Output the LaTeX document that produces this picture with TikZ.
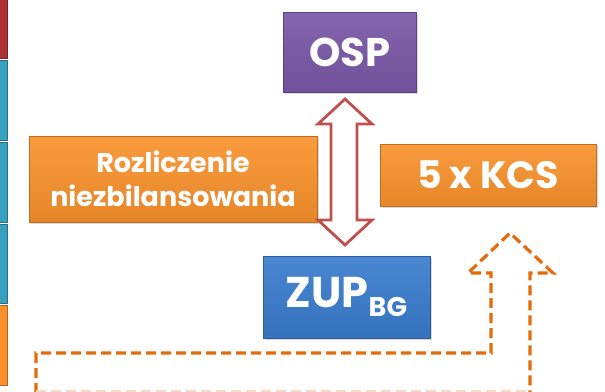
\documentclass[tikz,border=0pt]{standalone}
\usepackage{fontspec}
\newfontfamily\boxfont{Poppins}
\usetikzlibrary{positioning,shadows}

\definecolor{ospviolet}{RGB}{122,88,166}
\definecolor{kcsorange}{RGB}{249,146,45}
\definecolor{zupblue}{RGB}{58,124,206}
\definecolor{arrowred}{RGB}{192,80,77}
\definecolor{dashorange}{RGB}{228,108,10}
\definecolor{stripred}{RGB}{170,50,50}
\definecolor{stripteal}{RGB}{55,160,190}

\begin{document}
\begin{tikzpicture}[x=1pt, y=-1pt,
                    box/.style={draw=#1!75!black, line width=0.6pt,
                      top color=#1!92!white, bottom color=#1!92!black,
                      text=white, align=center, inner sep=0pt,
                      drop shadow={opacity=0.3, shadow xshift=1.5pt, shadow yshift=-1.5pt}},
                    boxtext/.style 2 args={font=\boxfont\bfseries\fontsize{#1}{#2}\selectfont},
                    strip/.style={fill=#1, draw=#1!70!black, line width=0.5pt}]
\useasboundingbox (0,0) rectangle (605,391);

% side strip
\path[strip=stripred] (-2,-2) rectangle (7,58);
\path[strip=stripteal] (-2,60) rectangle (7,140);
\path[strip=stripteal] (-2,142) rectangle (7,222);
\path[strip=stripteal] (-2,224) rectangle (7,303);
\path[strip=kcsorange] (-2,305) rectangle (7,385);

% boxes
\node[box=ospviolet, boxtext={40}{40}, minimum width=133pt, minimum height=80pt] (osp) at (349.5,52)
     {OSP};
\node[box=kcsorange, boxtext={27}{34}, minimum width=288pt, minimum height=86pt] (rozl) at (173,179)
     {Rozliczenie\\ niezbilansowania};
\node[box=kcsorange, boxtext={38}{38}, minimum width=216pt, minimum height=62pt] (kcs) at (488,175)
     {5 x KCS};
\node[box=zupblue, boxtext={43}{43}, minimum width=167pt, minimum height=82pt] (zup) at (346.5,297)
     {ZUP\raisebox{-9pt}{\fontsize{27}{27}\selectfont BG}};

% double arrow OSP <-> ZUP
\draw[arrowred, line width=2.8pt, line join=miter]
  (345,99) -- (372,124) -- (357,124) -- (357,220) -- (372,220) -- (345,245)
  -- (318,220) -- (331,220) -- (331,124) -- (318,124) -- cycle;

% dashed arrow up to KCS
\draw[dashorange, line width=3.2pt, dash pattern=on 10pt off 5pt]
  (36,393) -- (36,353) -- (491,353) -- (491,273) -- (468,273) -- (510,233)
  -- (553,273) -- (530,273) -- (530,393);
\draw[dashorange!25, line width=2pt, dash pattern=on 10pt off 5pt]
  (36,390.5) -- (530,390.5);
\end{tikzpicture}
\end{document}
